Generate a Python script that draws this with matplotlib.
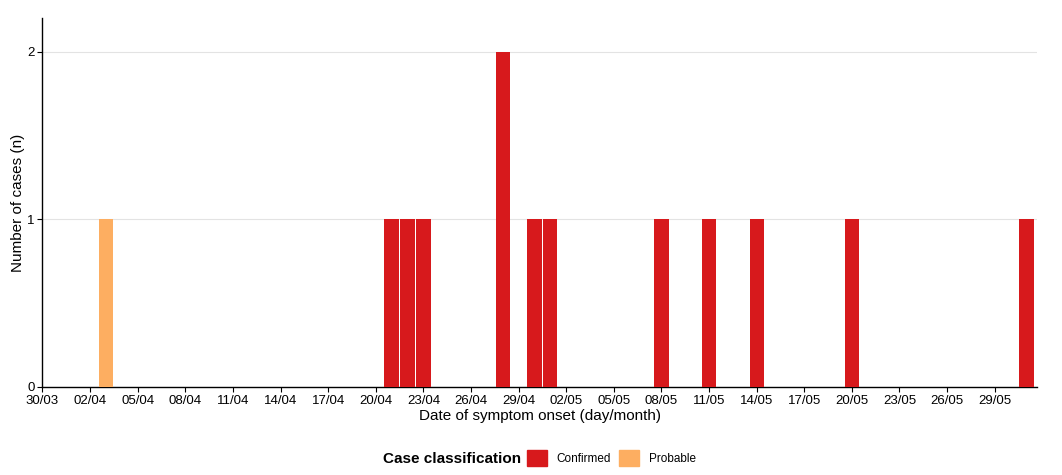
import numpy as np
import pandas as pd
import matplotlib
matplotlib.use("Agg")
import matplotlib.pyplot as plt
import matplotlib.dates as mdates
from matplotlib.patches import Patch

plt.rcParams['font.family'] = ['Liberation Sans', 'DejaVu Sans']

# data
confirmed_dates = ["2020-04-21", "2020-04-22", "2020-04-23", "2020-04-28", "2020-04-30",
                   "2020-05-01", "2020-05-08", "2020-05-11", "2020-05-14", "2020-05-20",
                   "2020-05-31"]
confirmed_counts = [1, 1, 1, 2, 1, 1, 1, 1, 1, 1, 1]
probable_dates = ["2020-04-03"]
probable_counts = [1]

tick_start = "2020-03-30"
tick_end = "2020-05-29"
x_max = "2020-05-31 16:00"

col_confirmed = "#d7191c"
col_probable = "#fdae61"

fig = plt.figure(figsize=(10.62, 4.75), dpi=100)
ax = fig.add_axes([0.04, 0.1853, 0.9365, 0.7762])

ax.bar(pd.to_datetime(confirmed_dates), confirmed_counts, width=0.9,
       color=col_confirmed, zorder=3)
ax.bar(pd.to_datetime(probable_dates), probable_counts, width=0.9,
       color=col_probable, zorder=3)

ticks = pd.date_range(tick_start, tick_end, freq="3D")
ax.set_xticks(ticks)
ax.xaxis.set_major_formatter(mdates.DateFormatter("%d/%m"))
ax.set_xlim(pd.Timestamp(tick_start), pd.Timestamp(x_max))
ax.set_ylim(0, 2.2)
ax.set_yticks([0, 1, 2])

ax.grid(axis="y", color="#e3e3e3", linewidth=0.8, zorder=0)
ax.grid(axis="x", visible=False)
for s in ["top", "right"]:
    ax.spines[s].set_visible(False)
for s in ["left", "bottom"]:
    ax.spines[s].set_color("black")
    ax.spines[s].set_linewidth(1.0)
ax.tick_params(axis="both", labelsize=9.5, length=3.5, width=0.8, colors="black", pad=2)

ax.set_xlabel("Date of symptom onset (day/month)", fontsize=11, labelpad=2)
ax.set_ylabel("Number of cases (n)", fontsize=11, labelpad=2)

# legend at the bottom, title on the left
fig.text(383 / 1062, 1 - 459 / 475, "Case classification", fontsize=11,
         fontweight="bold", ha="left", va="center")
handles = [Patch(color=col_confirmed, label="Confirmed"),
           Patch(color=col_probable, label="Probable")]
fig.legend(handles=handles, loc="center left", bbox_to_anchor=(527 / 1062, 1 - 458 / 475),
           ncol=2, frameon=False, fontsize=8.5, handlelength=1.7, handleheight=1.7,
           handletextpad=0.8, columnspacing=0.7, borderpad=0, borderaxespad=0)

fig.savefig("out.png", dpi=100)
